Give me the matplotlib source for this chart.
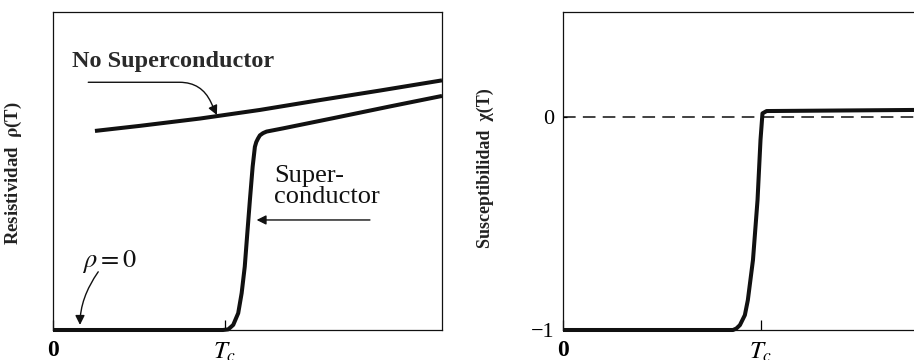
import matplotlib.pyplot as plt

plt.rcParams["font.family"] = ["Liberation Serif", "DejaVu Serif"]
plt.rcParams["mathtext.fontset"] = "stix"

# temperature axis in units of Tc
TC = 1.0

# resistivity: normal metal vs superconductor
T_normal = [0.244, 0.506, 0.855, 1.203, 1.552, 1.901, 2.262]
rho_normal = [0.626, 0.642, 0.665, 0.692, 0.723, 0.753, 0.785]

T_super = [0.0, 0.988, 1.019, 1.048, 1.077, 1.097, 1.115, 1.130, 1.145,
           1.161, 1.174, 1.182, 1.192, 1.203, 1.221, 1.242, 1.337, 1.628,
           1.959, 2.262]
rho_super = [0.0, 0.0, 0.002, 0.016, 0.053, 0.116, 0.199, 0.305, 0.409,
             0.514, 0.576, 0.591, 0.602, 0.612, 0.619, 0.624, 0.634, 0.666,
             0.703, 0.736]

# magnetic susceptibility
T_chi = [0.0, 0.859, 0.876, 0.894, 0.919, 0.934, 0.960, 0.983, 0.998,
         1.008, 1.029, 1.900]
chi = [-1.0, -1.0, -0.993, -0.977, -0.93, -0.86, -0.671, -0.39, -0.108,
       0.017, 0.028, 0.034]

x_ticklabels = ["0", r"$T_c$"]
chi_ticks = [-1, 0]
chi_ticklabels = ["\u22121", "0"]

LW = 2.9
INK = "#111111"


def _style(ax):
    for sp in ax.spines.values():
        sp.set_linewidth(0.9)
        sp.set_color(INK)
    ax.set_xticks([0, TC])
    labels = ax.set_xticklabels(x_ticklabels, fontsize=17, fontweight="bold")
    labels[1].set_fontsize(18)
    ax.tick_params(axis="x", direction="in", length=7, width=0.9, pad=7.5)


fig = plt.figure(figsize=(9.14, 3.6), dpi=100)

# ---- left: resistivity
ax1 = fig.add_axes([53 / 914, 30 / 360, 389 / 914, 318 / 360])
ax1.set_xlim(0, 2.262)
ax1.set_ylim(0, 1)
_style(ax1)
ax1.set_yticks([])

ax1.plot(T_normal, rho_normal, color=INK, lw=LW, clip_on=False,
         solid_capstyle="butt", solid_joinstyle="round")
ax1.plot(T_super, rho_super, color=INK, lw=LW, clip_on=False,
         solid_capstyle="butt", solid_joinstyle="round")

ax1.text(0.110, 0.828, "No Superconductor", fontsize=17.5, fontweight="bold",
         color="#2a2a2a", ha="left", va="baseline")
ax1.text(1.285, 0.520, "Super-\nconductor", fontsize=19, color=INK,
         ha="left", va="top", linespacing=0.95)
ax1.text(0.169, 0.198, r"$\rho = 0$", fontsize=19, color=INK,
         ha="left", va="baseline")

arrow_kw = dict(arrowstyle="-|>", color=INK, lw=1.0, mutation_scale=14,
                shrinkA=0, shrinkB=0)
ax1.annotate("", xy=(0.953, 0.676), xytext=(0.205, 0.779),
             arrowprops=dict(connectionstyle="angle,angleA=0,angleB=115,rad=22",
                             **arrow_kw))
ax1.annotate("", xy=(1.184, 0.346), xytext=(1.843, 0.346),
             arrowprops=dict(**arrow_kw))
ax1.annotate("", xy=(0.157, 0.016), xytext=(0.263, 0.183),
             arrowprops=dict(connectionstyle="angle3,angleA=55,angleB=90",
                             **arrow_kw))

ax1.set_ylabel(r"Resistividad  $\mathbf{\rho}$(T)", fontsize=13.5,
               fontweight="bold", color="#222222")
ax1.yaxis.set_label_coords(-0.075, 0.494)

# ---- right: susceptibility
ax2 = fig.add_axes([563 / 914, 30 / 360, 376 / 914, 318 / 360])
ax2.set_xlim(0, 1.9)
ax2.set_ylim(-1, 0.493)
_style(ax2)
ax2.set_yticks(chi_ticks)
ax2.set_yticklabels(chi_ticklabels, fontsize=16)
ax2.tick_params(axis="y", direction="in", length=3, width=0.9, pad=6)

ax2.axhline(0, color="#333333", lw=1.3, dashes=(7, 4), zorder=1)
ax2.plot(T_chi, chi, color=INK, lw=LW, clip_on=False, zorder=3,
         solid_capstyle="butt", solid_joinstyle="round")

ax2.set_ylabel("Susceptibilidad  \u03c7(T)", fontsize=13, fontweight="bold",
               color="#222222")
ax2.yaxis.set_label_coords(-0.1835, 0.509)

fig.savefig("out.png", dpi=100)
